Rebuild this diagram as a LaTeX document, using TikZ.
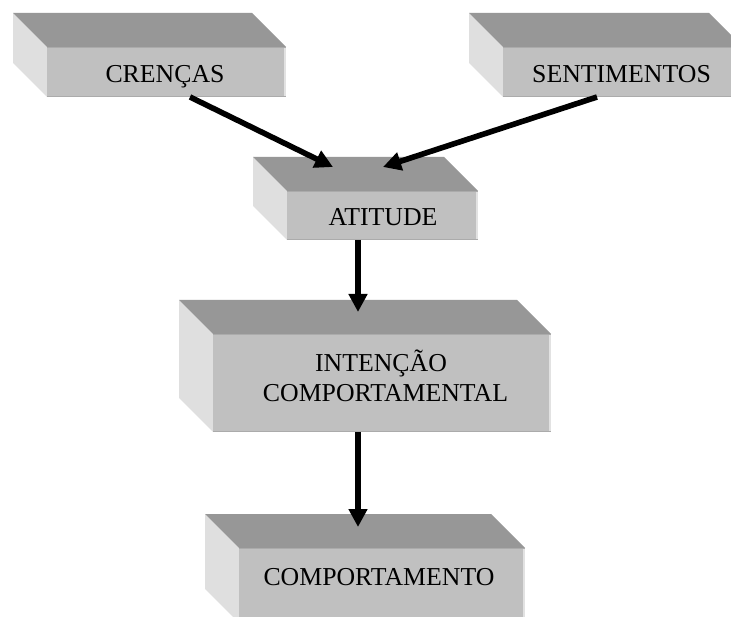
\documentclass[tikz,border=0pt]{standalone}
\usepackage{fontspec}
\setmainfont{Liberation Serif}
\usetikzlibrary{arrows.meta,calc}

\definecolor{topgray}{HTML}{979797}
\definecolor{frontgray}{HTML}{C0C0C0}
\definecolor{sidegray}{HTML}{DFDFDF}
\definecolor{edgegray}{HTML}{ABABAB}
\definecolor{rimgray}{HTML}{E2E2E2}

\tikzset{
  face/.style={fill=frontgray, rectangle, inner sep=0pt, outer sep=0pt},
  boxtext/.style={font=\fontsize{25.8}{30}\selectfont, text=black, inner sep=0pt, anchor=base},
  link/.style={line width=5.6pt, -{Triangle[length=18pt,width=18pt]}},
}

% a bevelled slab: front face (named node), top face and left face
% arguments: name, left, top, right, bottom of the front face
\newcommand\drawslab[5]{%
  \fill[sidegray] ({#2-34},{#3-34}) -- (#2,#3) -- (#2,#5) -- ({#2-34},{#5-34}) -- cycle;
  \fill[topgray] ({#2-34},{#3-34}) -- ({#4-34},{#3-34}) -- (#4,#3) -- (#2,#3) -- cycle;
  \node[face, minimum width={(#4-#2)*1pt}, minimum height={(#5-#3)*1pt}] (#1) at ({(#2+#4)/2},{(#3+#5)/2}) {};
  \fill[rimgray] ([xshift=-2.5pt]#1.north east) rectangle (#1.south east);
  \draw[edgegray, line width=1.2pt] ([yshift=-0.6pt]#1.north west) -- ([yshift=-0.6pt]#1.north east);
  \draw[edgegray, line width=1.4pt] ([yshift=0.7pt]#1.south west) -- ([yshift=0.7pt]#1.south east);
}

\begin{document}
\begin{tikzpicture}[x=1pt, y=-1pt]
  \useasboundingbox (0,0) rectangle (731,617);
  \fill[white] (0,0) rectangle (731,617);
  \clip (0,0) rectangle (731,617);

  % slabs
  \drawslab{cren}{47}{47}{286}{97}
  \drawslab{sent}{503}{47}{743}{97}
  \drawslab{atit}{287}{191}{478}{240}
  \drawslab{intc}{213}{334}{551}{432}
  \drawslab{comp}{239}{548}{525}{623}

  % labels
  \node[boxtext] (tcren) at (165,83) {CRENÇAS};
  \node[boxtext] (tsent) at (621.5,83) {SENTIMENTOS};
  \node[boxtext] (tatit) at (383,226) {ATITUDE};
  \node[boxtext] (tint1) at (381,372) {INTENÇÃO};
  \node[boxtext] (tint2) at (385.5,402) {COMPORTAMENTAL};
  \node[boxtext] (tcomp) at (379,585) {COMPORTAMENTO};

  % arrows
  \draw[link] ([xshift=23.5pt]cren.south) -- ([shift={(-49.5,-24)}]atit.north);
  \draw[link] ([xshift=-26pt]sent.south) -- ([shift={(0.5,-24)}]atit.north);
  \draw[link] ([xshift=-24.5pt]atit.south) -- ([shift={(-24,-22)}]intc.north);
  \draw[link] ([xshift=-24pt]intc.south) -- ([shift={(-24,-21)}]comp.north);
\end{tikzpicture}
\end{document}
